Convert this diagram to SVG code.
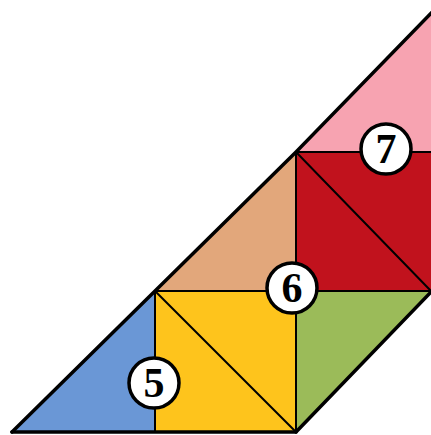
<svg xmlns="http://www.w3.org/2000/svg" width="431" height="435" viewBox="0 0 431 435">
<style>
.thin{stroke:#000;stroke-width:2;fill:none;stroke-linecap:round}
.thick{stroke:#000;stroke-width:3.5;fill:none;stroke-linecap:round;stroke-linejoin:round}
.badge circle{fill:#fff;stroke:#000;stroke-width:3.5}
.badge text{font-family:"Liberation Serif",serif;font-size:42px;font-weight:bold;text-anchor:middle;fill:#000}
</style>
<rect width="431" height="435" fill="#fff"/>
<g id="shapes">
<polygon id="blue" points="12,432 155,291 155,432" fill="#6a97d6"/>
<rect id="yellow" x="155" y="291" width="141" height="141" fill="#fec41c"/>
<polygon id="tan" points="155,291 296,152 296,291" fill="#e2a77b"/>
<polygon id="green" points="296,291 433,291 296,432" fill="#9bbb59"/>
<rect id="red" x="296" y="152" width="150" height="139" fill="#c1121d"/>
<polygon id="pink" points="296,152 440,152 440,4" fill="#f7a3b1"/>
</g>
<g id="connectors">
<line class="thin" x1="155" y1="291" x2="155" y2="432"/>
<line class="thin" x1="155" y1="291" x2="433" y2="291"/>
<line class="thin" x1="296" y1="152" x2="296" y2="432"/>
<line class="thin" x1="296" y1="152" x2="435" y2="152"/>
<line class="thin" x1="155" y1="291" x2="296" y2="432"/>
<line class="thin" x1="296" y1="152" x2="431" y2="291"/>
<polyline class="thick" points="12,432 155,291 296,152 440,4"/>
<line class="thick" x1="12" y1="432" x2="296" y2="432"/>
<line class="thick" x1="296" y1="432" x2="433" y2="290"/>
</g>
<g id="label5" class="badge"><circle cx="154" cy="383" r="25"/><text x="154" y="397">5</text></g>
<g id="label6" class="badge"><circle cx="292" cy="288" r="25"/><text x="292" y="302">6</text></g>
<g id="label7" class="badge"><circle cx="386" cy="149" r="25"/><text x="386" y="163">7</text></g>
</svg>
